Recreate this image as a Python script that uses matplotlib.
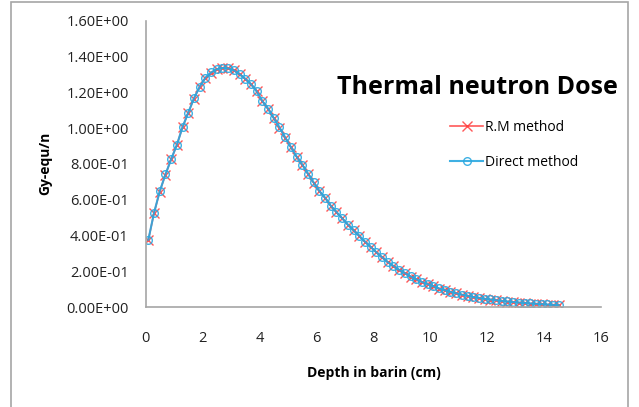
import matplotlib
matplotlib.use("Agg")
import matplotlib.pyplot as plt
import numpy as np
from matplotlib.ticker import FuncFormatter
from matplotlib.patches import Rectangle

# Datos
depth = [0.1, 0.3, 0.5, 0.7, 0.9, 1.1, 1.3, 1.5, 1.7, 1.9,
         2.1, 2.3, 2.5, 2.7, 2.9, 3.1, 3.3, 3.5, 3.7, 3.9,
         4.1, 4.3, 4.5, 4.7, 4.9, 5.1, 5.3, 5.5, 5.7, 5.9,
         6.1, 6.3, 6.5, 6.7, 6.9, 7.1, 7.3, 7.5, 7.7, 7.9,
         8.1, 8.3, 8.5, 8.7, 8.9, 9.1, 9.3, 9.5, 9.7, 9.9,
         10.1, 10.3, 10.5, 10.7, 10.9, 11.1, 11.3, 11.5, 11.7, 11.9,
         12.1, 12.3, 12.5, 12.7, 12.9, 13.1, 13.3, 13.5, 13.7, 13.9,
         14.1, 14.3, 14.5]

rm_method = [0.375, 0.525, 0.645, 0.740, 0.825, 0.905, 1.005, 1.085, 1.165, 1.230,
             1.280, 1.310, 1.328, 1.335, 1.333, 1.322, 1.300, 1.275, 1.245, 1.205,
             1.150, 1.108, 1.055, 1.003, 0.947, 0.893, 0.840, 0.795, 0.745, 0.695,
             0.648, 0.610, 0.565, 0.530, 0.495, 0.460, 0.428, 0.397, 0.365, 0.335,
             0.305, 0.277, 0.250, 0.228, 0.207, 0.188, 0.170, 0.154, 0.139, 0.127,
             0.115, 0.103, 0.093, 0.084, 0.076, 0.068, 0.062, 0.055, 0.050, 0.045,
             0.041, 0.037, 0.033, 0.030, 0.027, 0.024, 0.022, 0.019, 0.017, 0.015,
             0.013, 0.011, 0.009]

direct_method = [0.376, 0.527, 0.647, 0.741, 0.826, 0.906, 1.006, 1.086, 1.166, 1.231,
                 1.281, 1.311, 1.329, 1.336, 1.334, 1.323, 1.301, 1.276, 1.246, 1.206,
                 1.151, 1.109, 1.056, 1.004, 0.948, 0.894, 0.841, 0.796, 0.746, 0.696,
                 0.649, 0.611, 0.566, 0.531, 0.496, 0.461, 0.429, 0.398, 0.366, 0.336,
                 0.306, 0.278, 0.251, 0.229, 0.208, 0.189, 0.171, 0.155, 0.140, 0.128,
                 0.116, 0.104, 0.094, 0.085, 0.077, 0.069, 0.063, 0.056, 0.051, 0.046,
                 0.042, 0.038, 0.034, 0.031, 0.028, 0.025, 0.023, 0.020, 0.018, 0.016,
                 0.014, 0.012, 0.010]

x_ticks = [0, 2, 4, 6, 8, 10, 12, 14, 16]
y_ticks = [0.0, 0.2, 0.4, 0.6, 0.8, 1.0, 1.2, 1.4, 1.6]

plt.rcParams['font.family'] = ['Open Sans', 'DejaVu Sans']

fig = plt.figure(figsize=(6.39, 4.07), dpi=100)
ax = fig.add_axes([0.2277, 0.2457, 0.7136, 0.7034])

# Series
ax.plot(depth, rm_method, color='#ff3b3b', marker='x', markersize=6.5,
        markeredgewidth=1.0, linewidth=1.2, alpha=0.85, label='R.M method')
ax.plot(depth, direct_method, color='#2aa8e0', marker='o', markersize=5.5,
        markerfacecolor='none', markeredgewidth=1.0, linewidth=1.5,
        alpha=0.9, label='Direct method')

ax.set_xlim(0, 16)
ax.set_ylim(0, 1.6)
ax.set_xticks(x_ticks)
ax.set_yticks(y_ticks)
ax.yaxis.set_major_formatter(FuncFormatter(lambda v, p: '{:.2E}'.format(v)))
ax.tick_params(length=0, labelsize=10.5, colors='#222222')
ax.tick_params(axis='x', pad=17)
ax.tick_params(axis='y', pad=12)

for s in ['top', 'right']:
    ax.spines[s].set_visible(False)
for s in ['left', 'bottom']:
    ax.spines[s].set_color('#a6a6a6')
    ax.spines[s].set_linewidth(1.2)

ax.set_xlabel('Depth in barin (cm)', fontsize=10, fontweight='bold')
ax.set_ylabel('Gy-equ/n', fontsize=10, fontweight='bold')
ax.xaxis.set_label_coords(0.5, -0.205)
ax.yaxis.set_label_coords(-0.205, 0.5)

fig.text(0.747, 0.786, 'Thermal neutron Dose', fontsize=18, fontweight='bold',
         ha='center', va='center')

ax.legend(loc='center left', bbox_to_anchor=(0.704, 0.644),
          bbox_transform=fig.transFigure, frameon=False, borderpad=0,
          borderaxespad=0, fontsize=10, handlelength=2.4, handletextpad=0.15,
          labelspacing=1.45)

# Borde del grafico
fig.patches.append(Rectangle((11 / 639, -0.01), 617 / 639, 1.005,
                             transform=fig.transFigure, fill=False,
                             edgecolor='#a6a6a6', linewidth=1.2))

plt.savefig('out.png', dpi=100)
